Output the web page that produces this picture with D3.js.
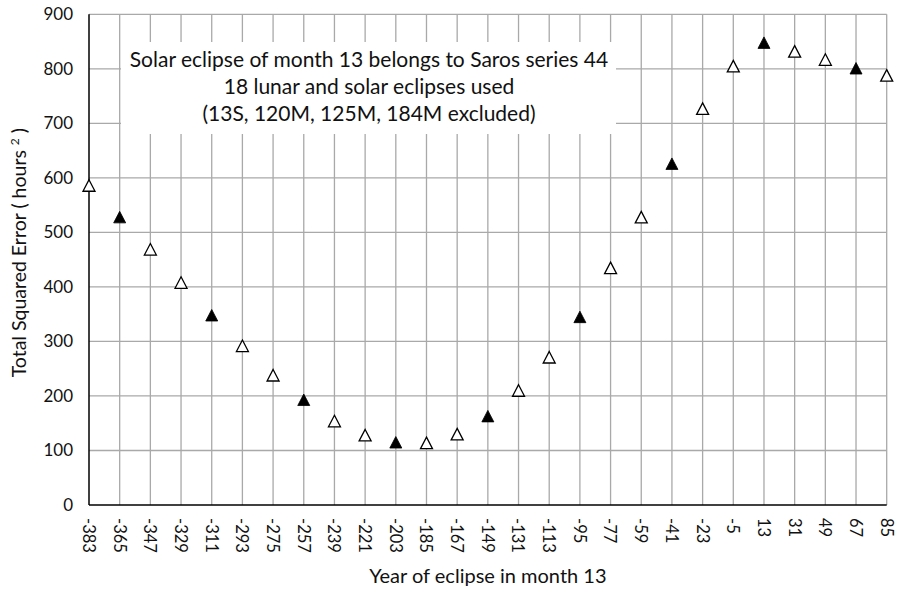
<!DOCTYPE html>
<html>
<head>
<meta charset="utf-8">
<script src="https://cdn.jsdelivr.net/npm/d3@7"></script>
<style>
  html, body { margin: 0; padding: 0; background: #fff; }
  svg { display: block; font-family: Lato, "Liberation Sans", sans-serif; }
</style>
</head>
<body>
<svg id="chart" width="897" height="589"></svg>
<script>
// Candidate years for the eclipse in month 13
const years = [-383, -365, -347, -329, -311, -293, -275, -257, -239, -221, -203, -185, -167, -149,
               -131, -113, -95, -77, -59, -41, -23, -5, 13, 31, 49, 67, 85];
// Total squared error (hours^2) for each candidate year
const totalError = [586, 528, 469, 408, 348, 292, 238, 193, 154, 128, 115, 114, 130, 163,
                    210, 271, 345, 435, 528, 626, 727, 805, 848, 832, 817, 801, 788];
// Years drawn with a filled marker
const filledYears = [-365, -311, -257, -203, -149, -95, -41, 13, 67];
// Y axis ticks
const yTicks = [0, 100, 200, 300, 400, 500, 600, 700, 800, 900];

const noteLines = [
  "Solar eclipse of month 13 belongs to Saros series 44",
  "18 lunar and solar eclipses used",
  "(13S, 120M, 125M, 184M excluded)"
];

const svg = d3.select("#chart");
const W = 897, H = 589;
const margin = { top: 14.3, right: 10.3, bottom: 84, left: 89 };

const x = d3.scalePoint()
  .domain(years)
  .range([margin.left, W - margin.right]);

const y = d3.scaleLinear()
  .domain([0, 900])
  .range([H - margin.bottom, margin.top]);

const gridColor = "#a9a9a9";

// Horizontal grid
svg.append("g")
  .selectAll("line")
  .data(yTicks.filter(t => t > 0))
  .join("line")
  .attr("x1", margin.left).attr("x2", W - margin.right)
  .attr("y1", d => y(d)).attr("y2", d => y(d))
  .attr("stroke", gridColor).attr("stroke-width", 1.3);

// Vertical grid
svg.append("g")
  .selectAll("line")
  .data(years.slice(1))
  .join("line")
  .attr("x1", d => x(d)).attr("x2", d => x(d))
  .attr("y1", y(900)).attr("y2", y(0))
  .attr("stroke", gridColor).attr("stroke-width", 1.3);

// Note box (white background hides the grid underneath)
const note = svg.append("g");
note.append("rect")
  .attr("x", 121).attr("y", 42)
  .attr("width", 495).attr("height", 92)
  .attr("fill", "#fff");
note.selectAll("text")
  .data(noteLines)
  .join("text")
  .attr("x", 369)
  .attr("y", (d, i) => 67 + i * 27)
  .attr("text-anchor", "middle")
  .attr("font-size", 21)
  .attr("fill", "#111")
  .text(d => d);

// Axis lines
svg.append("line")
  .attr("x1", margin.left).attr("x2", margin.left)
  .attr("y1", y(900)).attr("y2", y(0))
  .attr("stroke", "#000").attr("stroke-width", 1.5);
svg.append("line")
  .attr("x1", margin.left).attr("x2", W - margin.right)
  .attr("y1", y(0)).attr("y2", y(0))
  .attr("stroke", "#000").attr("stroke-width", 1.5);

// Y tick labels
const yAxis = d3.axisLeft(y).tickValues(yTicks).tickSize(0).tickPadding(16);
const gy = svg.append("g")
  .attr("transform", `translate(${margin.left},0)`)
  .call(yAxis);
gy.select(".domain").remove();
gy.selectAll("text")
  .attr("font-family", "Lato, sans-serif")
  .attr("font-size", 17)
  .attr("fill", "#111");

// X tick labels, rotated to read downward
const xAxis = d3.axisBottom(x).tickSize(0).tickPadding(0);
const gx = svg.append("g")
  .attr("transform", `translate(0,${y(0)})`)
  .call(xAxis);
gx.select(".domain").remove();
gx.selectAll("text")
  .attr("font-family", "Lato, sans-serif")
  .attr("font-size", 16.5)
  .attr("fill", "#111")
  .attr("text-anchor", "start")
  .attr("dy", "0.4em")
  .attr("y", 0)
  .attr("transform", "translate(0,13) rotate(90)");

// Markers: isosceles triangles centred on their bounding box
const triW = 12, triH = 11.5;
function triPath(cx, cy) {
  return `M${cx},${cy - triH / 2}L${cx + triW / 2},${cy + triH / 2}L${cx - triW / 2},${cy + triH / 2}Z`;
}
const points = years.map((yr, i) => ({ year: yr, value: totalError[i], filled: filledYears.includes(yr) }));
svg.append("g")
  .selectAll("path")
  .data(points)
  .join("path")
  .attr("d", d => triPath(x(d.year), y(d.value)))
  .attr("fill", d => d.filled ? "#000" : "#fff")
  .attr("stroke", "#000")
  .attr("stroke-width", d => d.filled ? 0.8 : 1.3)
  .attr("stroke-linejoin", "miter");

// Axis titles
svg.append("text")
  .attr("x", (margin.left + W - margin.right) / 2)
  .attr("y", 583)
  .attr("text-anchor", "middle")
  .attr("font-size", 20)
  .attr("fill", "#111")
  .text("Year of eclipse in month 13");

const yTitle = svg.append("text")
  .attr("transform", `translate(26,${(y(0) + y(900)) / 2 - 7}) rotate(-90)`)
  .attr("text-anchor", "middle")
  .attr("font-size", 19.5)
  .attr("fill", "#111");
yTitle.append("tspan").text("Total Squared Error ( hours ");
yTitle.append("tspan").attr("font-size", 12).attr("dy", -7).text("2");
yTitle.append("tspan").attr("dy", 7).text(" )");
</script>
</body>
</html>
